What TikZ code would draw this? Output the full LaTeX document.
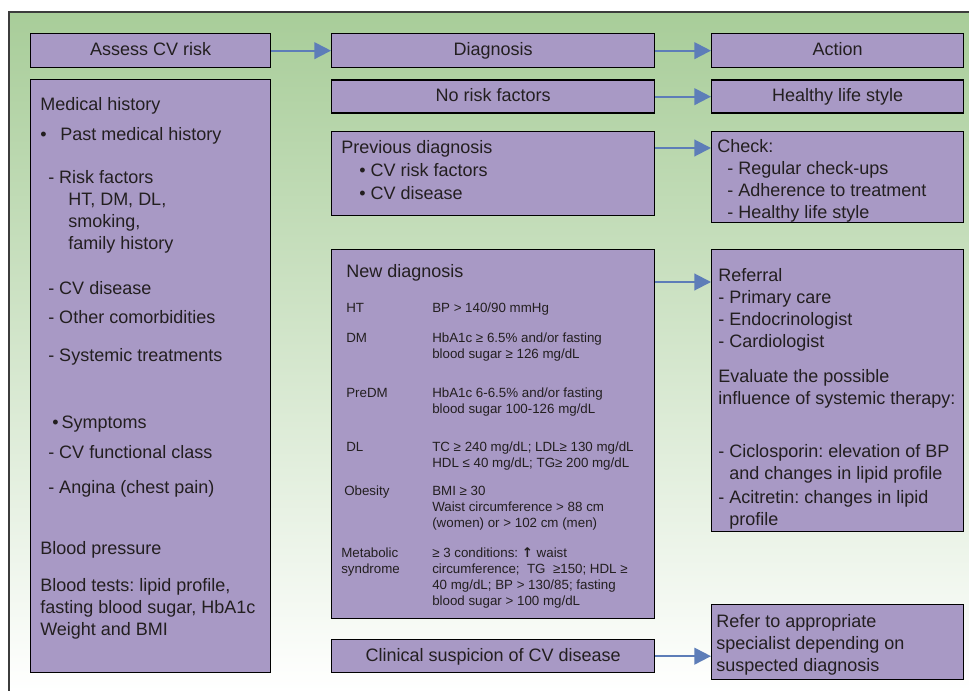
\documentclass[tikz,border=0pt]{standalone}
\usepackage{fontspec}
\setmainfont{Liberation Sans}
\newfontfamily\arrowfont{DejaVu Sans}
\usepackage{tikz}
\usetikzlibrary{calc}
\usetikzlibrary{positioning}
\usetikzlibrary{arrows.meta}

\definecolor{bggreen}{RGB}{168,205,153}
\definecolor{boxfill}{RGB}{168,153,197}
\definecolor{flowblue}{RGB}{93,125,184}
\definecolor{framegray}{RGB}{60,60,60}
\definecolor{inkgray}{RGB}{35,31,32}

\newcommand{\tstrut}{\rule{0pt}{10pt}}
\frenchspacing

\begin{document}
\begin{tikzpicture}[x=0.75pt,y=-0.75pt,
      box/.style={draw=black,line width=1pt,fill=boxfill,inner sep=0pt,
        anchor=north west,font=\fontsize{13.5}{16.5}\selectfont,
        text=inkgray,text height=10.5pt,text depth=2.5pt},
      txt/.style={anchor=north west,inner sep=0pt,align=left,text=inkgray,
        font=\fontsize{13.5}{16.5}\selectfont},
      small/.style={anchor=north west,inner sep=0pt,text=inkgray,
        font=\fontsize{10}{12}\selectfont},
      flow/.style={draw=flowblue,line width=1.5pt,
        -{Triangle[length=12.5pt,width=12.5pt]}}
      ]
      \useasboundingbox (0,0) rectangle (969,691);
      \shade[top color=bggreen,bottom color=white] (9,12) rectangle (969,691);
      \draw[framegray,line width=1.5pt] (9,691) -- (9,12) -- (969,12);

      % boxes
      \node[box,minimum width=180pt,minimum height=25.5pt] (assess) at (30,33) {Assess CV risk};
      \node[box,minimum width=242.25pt,minimum height=25.5pt] (diag) at (331,33) {Diagnosis};
      \node[box,minimum width=189pt,minimum height=25.5pt] (action) at (711,33) {Action};
      \node[box,minimum width=180pt,minimum height=444.75pt] (medhist) at (30,79) {};
      \node[box,minimum width=242.25pt,minimum height=24.75pt] (norisk) at (331,79.5) {No risk factors};
      \node[box,minimum width=189pt,minimum height=24.75pt] (healthy) at (711,79.5) {Healthy life style};
      \node[box,minimum width=242.25pt,minimum height=63pt] (prevdiag) at (331,131) {};
      \node[box,minimum width=189pt,minimum height=68.25pt] (check) at (711,131) {};
      \node[box,minimum width=242.25pt,minimum height=276.75pt] (newdiag) at (331,249) {};
      \node[box,minimum width=189pt,minimum height=211.5pt] (referral) at (711,249) {};
      \node[box,minimum width=242.25pt,minimum height=24.75pt] (clinical) at (331,639) {Clinical suspicion of CV disease};
      \node[box,minimum width=189pt,minimum height=56.25pt] (refer) at (711,604) {};

      % texts
      \node[txt] (medtext) at ([xshift=7.5pt,yshift=-13.25pt]medhist.north west)
        {\tstrut Medical history\\[6pt]
         •\hspace{10.3pt}Past medical history\\[15.75pt]
         \hspace*{6pt}- Risk factors\\
         \hspace*{21pt}HT, DM, DL,\\
         \hspace*{21pt}smoking,\\
         \hspace*{21pt}family history\\[17.25pt]
         \hspace*{6pt}- CV disease\\[5.25pt]
         \hspace*{6pt}- Other comorbidities\\[12pt]
         \hspace*{6pt}- Systemic treatments\\[33.75pt]
         \hspace*{9pt}•\,Symptoms\\[6pt]
         \hspace*{6pt}- CV functional class\\[9.75pt]
         \hspace*{6pt}- Angina (chest pain)\\[29.25pt]
         Blood pressure\\[11.25pt]
         Blood tests: lipid profile,\\
         fasting blood sugar, HbA1c\\
         Weight and BMI};
      \node[txt] (prevtext) at ([xshift=7.5pt,yshift=-6.5pt]prevdiag.north west)
        {\tstrut Previous diagnosis\\[1pt]
         \hspace*{13.5pt}• CV risk factors\\[1pt]
         \hspace*{13.5pt}• CV disease};
      \node[txt] (checktext) at ([xshift=4.5pt,yshift=-5.75pt]check.north west)
        {\tstrut Check:\\
         \hspace*{7.5pt}- Regular check-ups\\
         \hspace*{7.5pt}- Adherence to treatment\\
         \hspace*{7.5pt}- Healthy life style};
      \node[txt] (newtitle) at ([xshift=11.25pt,yshift=-11pt]newdiag.north west)
        {\tstrut New diagnosis};
      \node[small] (newtable) at ([xshift=11.25pt,yshift=-38.85pt]newdiag.north west)
        {\begin{tabular}{@{}p{64.5pt}@{}l@{}}
         HT & BP > 140/90 mmHg\\[10.5pt]
         DM & HbA1c ≥ 6.5\% and/or fasting\\
            & blood sugar ≥ 126 mg/dL\\[17.25pt]
         PreDM & HbA1c 6-6.5\% and/or fasting\\
            & blood sugar 100-126 mg/dL\\[16.5pt]
         DL & TC ≥ 240 mg/dL; LDL≥ 130 mg/dL\\
            & HDL ≤ 40 mg/dL; TG≥ 200 mg/dL\\[9pt]
         \hspace*{-1.5pt}Obesity & BMI ≥ 30\\
            & Waist circumference > 88 cm\\
            & (women) or > 102 cm (men)\\[10.5pt]
         \hspace*{-3.75pt}Metabolic & ≥ 3 conditions: {\arrowfont\bfseries ↑} waist\\
         \hspace*{-3.75pt}syndrome & circumference;\ \ TG\ \ ≥150; HDL ≥\\
            & 40 mg/dL; BP > 130/85; fasting\\
            & blood sugar > 100 mg/dL
         \end{tabular}};
      \node[txt] (reftext) at ([xshift=5.25pt,yshift=-14pt]referral.north west)
        {\tstrut Referral\\
         - Primary care\\
         - Endocrinologist\\
         - Cardiologist\\[9.75pt]
         Evaluate the possible\\
         influence of systemic therapy:\\[23.25pt]
         - Ciclosporin: elevation of BP\\
         \hspace*{8.25pt}and changes in lipid profile\\[1.5pt]
         - Acitretin: changes in lipid\\
         \hspace*{8.25pt}profile};
      \node[txt] (refertext) at ([xshift=3.75pt,yshift=-7.25pt]refer.north west)
        {\tstrut Refer to appropriate\\
         specialist depending on\\
         suspected diagnosis};

      % arrows
      \draw[flow] (assess) -- (diag);
      \draw[flow] (diag) -- (action);
      \draw[flow] (norisk) -- (healthy);
      \coordinate (pd) at ([yshift=-12.75pt]prevdiag.north east);
      \draw[flow] (pd) -- (pd -| check.west);
      \coordinate (nd) at ([yshift=-24.75pt]newdiag.north east);
      \draw[flow] (nd) -- (nd -| referral.west);
      \draw[flow] (clinical.east) -- (clinical.east -| refer.west);

    \end{tikzpicture}
\end{document}
